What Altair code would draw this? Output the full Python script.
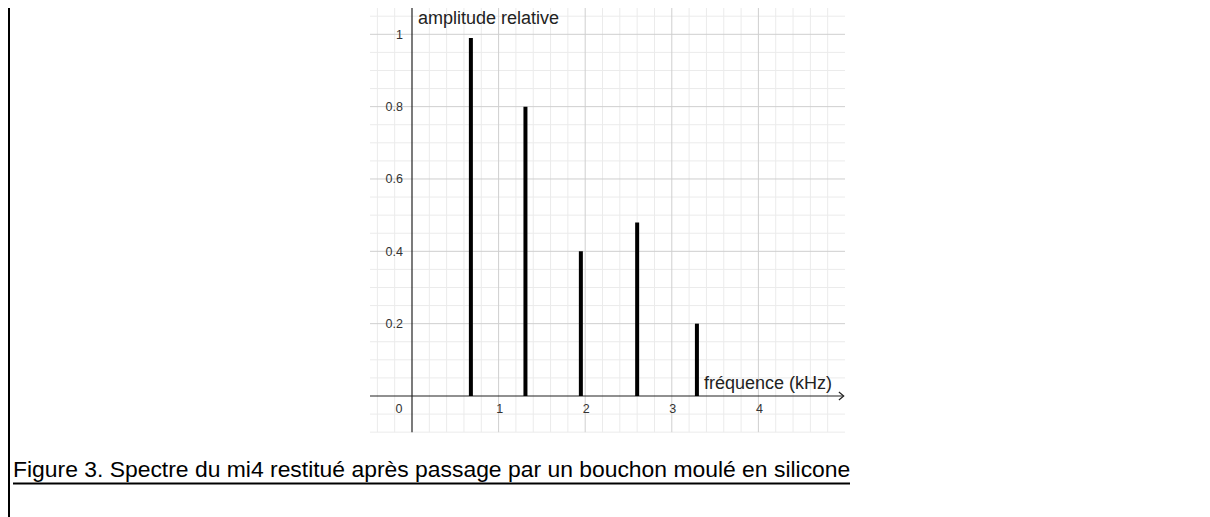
import altair as alt
import pandas as pd

# ---------------- data ----------------
FREQ_KHZ = [0.68, 1.31, 1.95, 2.60, 3.29]
AMPLITUDE = [0.99, 0.80, 0.40, 0.48, 0.20]

X_TICKS = [1, 2, 3, 4]
X_LABELS = ["1", "2", "3", "4"]
Y_TICKS = [0.2, 0.4, 0.6, 0.8, 1.0]
Y_LABELS = ["0.2", "0.4", "0.6", "0.8", "1"]

X_TITLE = "fréquence (kHz)"
Y_TITLE = "amplitude relative"
CAPTION = "Figure 3. Spectre du mi4 restitué après passage par un bouchon moulé en silicone"

# ---------------- layout ----------------
W, H = 1194, 509
X0, X1 = -0.485, 5.0
Y0, Y1 = -0.1, 1.0727
ORIGIN_X, PX_PER_X = 404.0, 86.6
ORIGIN_Y, PX_PER_Y = 388.0, 361.7

xs = alt.Scale(domain=[X0, X1], range=[ORIGIN_X + PX_PER_X * X0, ORIGIN_X + PX_PER_X * X1])
ys = alt.Scale(domain=[Y0, Y1], range=[ORIGIN_Y - PX_PER_Y * Y0, ORIGIN_Y - PX_PER_Y * Y1])

FONT = "Liberation Sans"

minor_x = [round(-0.4 + 0.2 * i, 2) for i in range(27)]
minor_x = [v for v in minor_x if abs(v - round(v)) > 1e-6]
minor_y = [round(-0.1 + 0.05 * i, 2) for i in range(24)]
minor_y = [v for v in minor_y if abs(v) > 1e-6 and abs(v * 5 - round(v * 5)) > 1e-6]

def vgrid(vals):
    return pd.DataFrame({"x": vals, "lo": [Y0] * len(vals), "hi": [Y1] * len(vals)})

def hgrid(vals):
    return pd.DataFrame({"y": vals, "lo": [X0] * len(vals), "hi": [X1] * len(vals)})

def vrules(df, color, width=1):
    return alt.Chart(df).mark_rule(color=color, strokeWidth=width).encode(
        x=alt.X("x:Q", scale=xs, axis=None),
        y=alt.Y("lo:Q", scale=ys, axis=None),
        y2="hi:Q",
    )

def hrules(df, color, width=1):
    return alt.Chart(df).mark_rule(color=color, strokeWidth=width).encode(
        y=alt.Y("y:Q", scale=ys, axis=None),
        x=alt.X("lo:Q", scale=xs, axis=None),
        x2="hi:Q",
    )

grid_minor_v = vrules(vgrid(minor_x), "#ebebeb")
grid_minor_h = hrules(hgrid(minor_y), "#ebebeb")
grid_major_v = vrules(vgrid(X_TICKS), "#cfcfcf")
grid_major_h = hrules(hgrid(Y_TICKS), "#cfcfcf")

# axes
x_axis = alt.Chart(pd.DataFrame({"y": [0], "lo": [X0], "hi": [4.98]})).mark_rule(
    color="#222", strokeWidth=1.2).encode(
    y=alt.Y("y:Q", scale=ys, axis=None), x=alt.X("lo:Q", scale=xs, axis=None), x2="hi:Q")
y_axis = alt.Chart(pd.DataFrame({"x": [0], "lo": [Y0], "hi": [Y1]})).mark_rule(
    color="#222", strokeWidth=1.2).encode(
    x=alt.X("x:Q", scale=xs, axis=None), y=alt.Y("lo:Q", scale=ys, axis=None), y2="hi:Q")
arrow = alt.Chart(pd.DataFrame({"x": [4.985], "y": [0]})).mark_point(
    shape="M -1.2 -1 L 0 0 L -1.2 1", filled=False, color="#222", strokeWidth=1.2,
    size=64, opacity=1).encode(
    x=alt.X("x:Q", scale=xs, axis=None), y=alt.Y("y:Q", scale=ys, axis=None))

# tick labels
xlab = alt.Chart(pd.DataFrame({"x": X_TICKS, "t": X_LABELS, "y": [0] * len(X_TICKS)})).mark_text(
    font=FONT, fontSize=12.5, color="#333", align="center", baseline="middle", dx=1, dy=12.5).encode(
    x=alt.X("x:Q", scale=xs, axis=None), y=alt.Y("y:Q", scale=ys, axis=None), text="t:N")
zlab = alt.Chart(pd.DataFrame({"x": [0], "t": ["0"], "y": [0]})).mark_text(
    font=FONT, fontSize=12.5, color="#333", align="center", baseline="middle", dx=-13, dy=12.5).encode(
    x=alt.X("x:Q", scale=xs, axis=None), y=alt.Y("y:Q", scale=ys, axis=None), text="t:N")
ylab = alt.Chart(pd.DataFrame({"y": Y_TICKS, "t": Y_LABELS, "x": [0] * len(Y_TICKS)})).mark_text(
    font=FONT, fontSize=12.5, color="#333", align="right", baseline="middle", dx=-9, dy=0.5).encode(
    x=alt.X("x:Q", scale=xs, axis=None), y=alt.Y("y:Q", scale=ys, axis=None), text="t:N")

# axis titles
ytitle = alt.Chart(pd.DataFrame({"t": [Y_TITLE]})).mark_text(
    font=FONT, fontSize=18, color="#222", align="left", baseline="alphabetic").encode(
    x=alt.value(410), y=alt.value(16), text="t:N")
xtitle = alt.Chart(pd.DataFrame({"t": [X_TITLE]})).mark_text(
    font=FONT, fontSize=18, color="#222", align="left", baseline="alphabetic").encode(
    x=alt.value(696), y=alt.value(381), text="t:N")

# spectrum lines
spec = pd.DataFrame({"f": FREQ_KHZ, "a": AMPLITUDE, "z": [0] * len(FREQ_KHZ)})
bars = alt.Chart(spec).mark_rule(color="black", strokeWidth=4, strokeCap="butt").encode(
    x=alt.X("f:Q", scale=xs, axis=None),
    y=alt.Y("z:Q", scale=ys, axis=None),
    y2="a:Q",
)

# caption
caption = alt.Chart(pd.DataFrame({"t": [CAPTION]})).mark_text(
    font=FONT, fontSize=22.9, color="black", align="left", baseline="alphabetic").encode(
    x=alt.value(5), y=alt.value(468.7), text="t:N")
underline = alt.Chart(pd.DataFrame({"t": [CAPTION]})).mark_rule(color="black", strokeWidth=2).encode(
    x=alt.value(5), x2=alt.value(842), y=alt.value(475.5))
border = alt.Chart(pd.DataFrame({"t": [0]})).mark_rule(color="black", strokeWidth=2).encode(
    x=alt.value(1), y=alt.value(0), y2=alt.value(H))

chart = alt.layer(
    grid_minor_v, grid_minor_h, grid_major_v, grid_major_h,
    x_axis, y_axis, arrow, bars,
    xlab, zlab, ylab, ytitle, xtitle,
    caption, underline, border,
).properties(
    width=W, height=H,
    autosize=alt.AutoSizeParams(type="none"),
    padding=0,
    background="white",
).configure_view(stroke=None)

chart.save("out.html", embed_options={"renderer": "svg", "actions": False})
